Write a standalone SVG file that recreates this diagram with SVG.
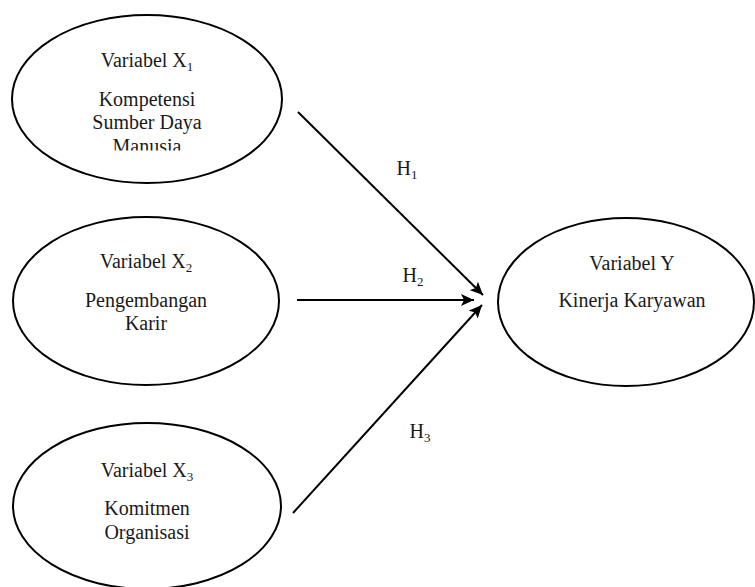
<svg xmlns="http://www.w3.org/2000/svg" width="755" height="587" viewBox="0 0 755 587">
<style>
.node ellipse{fill:#fff;stroke:#000;stroke-width:2}
text{font-family:"Liberation Serif","Times New Roman",serif;font-size:20px;fill:#1a1a1a;text-anchor:middle}
.sub{font-size:13px}
.conn line{stroke:#000;stroke-width:2}
</style>
<defs>
<marker id="arr" markerUnits="userSpaceOnUse" markerWidth="14" markerHeight="12" refX="13" refY="6" orient="auto">
<path d="M0,0 L13,6 L0,12 L3,6 Z" fill="#000"/>
</marker>
<clipPath id="clip1"><rect x="0" y="0" width="300" height="150.5"/></clipPath>
</defs>
<rect width="755" height="587" fill="#fff"/>
<g id="x1" class="node">
<ellipse cx="147" cy="99" rx="135" ry="84"/>
<text x="147" y="67">Variabel X<tspan class="sub" dy="4">1</tspan></text>
<text x="147" y="106">Kompetensi</text>
<text x="147" y="129">Sumber Daya</text>
<text x="147" y="153" clip-path="url(#clip1)">Manusia</text>
</g>
<g id="x2" class="node">
<ellipse cx="146" cy="301" rx="133" ry="84"/>
<text x="146" y="268">Variabel X<tspan class="sub" dy="4">2</tspan></text>
<text x="146" y="307">Pengembangan</text>
<text x="146" y="330">Karir</text>
</g>
<g id="x3" class="node">
<ellipse cx="147" cy="506" rx="134" ry="83"/>
<text x="147" y="477">Variabel X<tspan class="sub" dy="4">3</tspan></text>
<text x="147" y="515">Komitmen</text>
<text x="147" y="539">Organisasi</text>
</g>
<g id="y" class="node">
<ellipse cx="626" cy="302" rx="128" ry="84"/>
<text x="632" y="270">Variabel Y</text>
<text x="632" y="307">Kinerja Karyawan</text>
</g>
<g id="connectors" class="conn">
<line x1="298" y1="112" x2="483" y2="295" marker-end="url(#arr)"/>
<line x1="297" y1="300" x2="474" y2="300" marker-end="url(#arr)"/>
<line x1="293" y1="513" x2="482" y2="305" marker-end="url(#arr)"/>
<text x="407" y="175">H<tspan class="sub" dy="4">1</tspan></text>
<text x="413" y="282">H<tspan class="sub" dy="4">2</tspan></text>
<text x="420" y="438">H<tspan class="sub" dy="4">3</tspan></text>
</g>
</svg>
